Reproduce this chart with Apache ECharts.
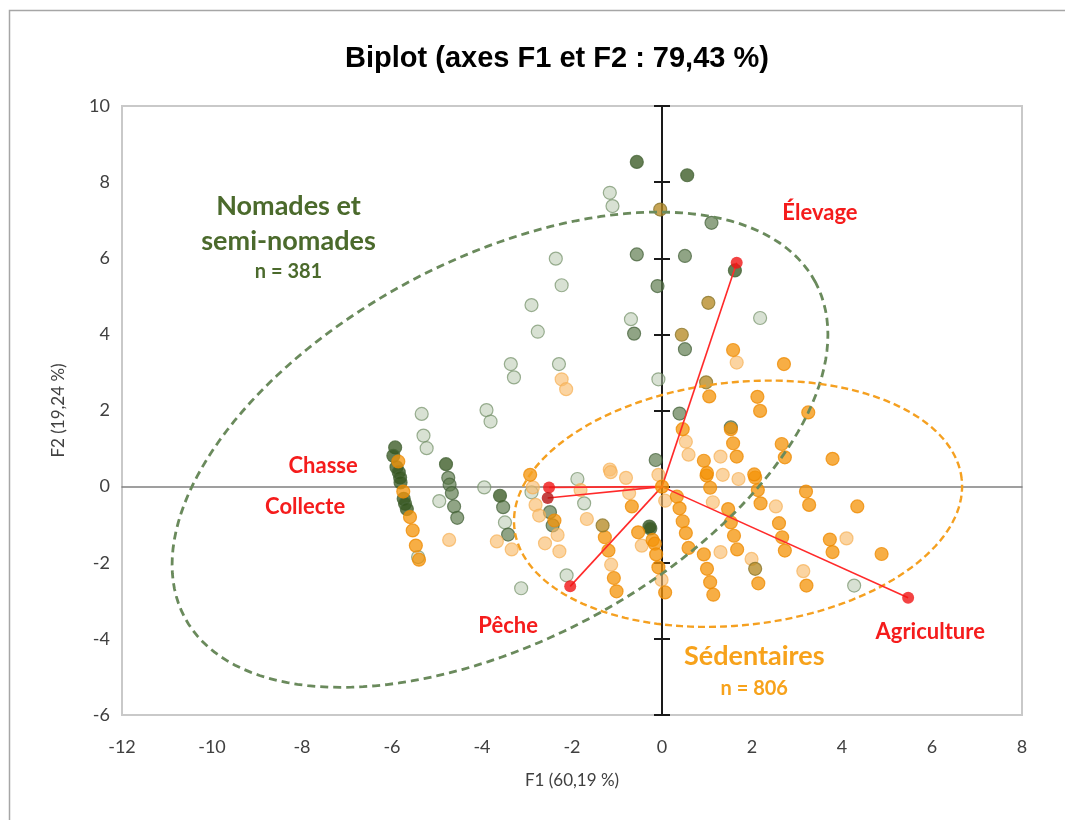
<!DOCTYPE html>
<html>
<head>
<meta charset="utf-8">
<script src="https://cdn.jsdelivr.net/npm/echarts@6/dist/echarts.min.js"></script>
<style>html,body{margin:0;padding:0;background:#fff;}#c{width:1065px;height:820px;}</style>
</head>
<body>
<div id="c"></div>
<script>
// ---- data ----
const xTicks = [-12, -10, -8, -6, -4, -2, 0, 2, 4, 6, 8];
const yTicks = [-6, -4, -2, 0, 2, 4, 6, 8, 10];

const darkGreen = [[-5.93,1.03],[-5.97,0.81],[-5.90,0.51],[-5.85,0.38],[-5.82,0.24],[-5.81,0.11],[-5.74,-0.32],[-5.71,-0.45],[-5.67,-0.59],
  [-4.8,0.59],[-3.6,-0.24],[-0.28,-1.05],[-0.26,-1.1],[-0.56,8.53],[0.56,8.18],[1.62,5.68]];
const midGreen = [[-4.75,0.23],[-4.72,0.05],[-4.67,-0.17],[-4.62,-0.52],[-4.55,-0.82],[-3.53,-0.54],[-3.42,-1.26],[-2.49,-0.67],[-2.43,-1.02],
  [1.1,6.93],[-0.56,6.1],[0.51,6.06],[-0.1,5.27],[-0.62,4.02],[0.51,3.61],[0.39,1.92],[-0.14,0.7],[1.53,1.56]];
const lightGreen = [[-5.34,1.91],[-5.30,1.34],[-5.23,1.01],[-4.95,-0.38],[-3.9,2.01],[-3.81,1.71],[-3.95,-0.02],[-3.49,-0.94],[-2.9,-0.15],
  [-1.88,0.2],[-1.73,-0.44],[-2.12,-2.33],[-3.13,-2.67],[-1.16,7.72],[-1.1,7.37],[-2.36,5.99],[-2.23,5.29],[-2.9,4.77],[-2.76,4.07],
  [-0.69,4.4],[-3.36,3.22],[-3.29,2.87],[-2.29,3.22],[-0.08,2.82],[2.18,4.43],[4.27,-2.6],[-5.42,-1.85]];
const orange = [[-5.86,0.66],[-5.75,-0.13],[-5.6,-0.80],[-5.54,-1.15],[-5.47,-1.55],[-5.40,-1.92],
  [-2.93,0.31],[-2.39,-0.89],[-0.67,-0.52],[-1.27,-1.33],[-1.19,-1.68],[-1.07,-2.4],[-1.01,-2.75],[-0.53,-1.2],[-0.21,-1.4],
  [-0.16,-1.5],[-0.13,-1.78],[-0.08,-2.12],[0.07,-2.78],[0.33,-0.26],[0.39,-0.57],[0.46,-0.91],[0.53,-1.22],[0.59,-1.61],
  [0.93,-1.78],[1.0,-2.16],[1.07,-2.51],[1.14,-2.84],[1.47,-0.59],[1.53,-0.94],[1.6,-1.29],[1.67,-1.65],[2.6,-0.96],[2.67,-1.33],
  [2.73,-1.68],[2.14,-2.54],[3.73,-1.39],[3.79,-1.72],[4.88,-1.77],[3.21,-2.6],[3.2,-0.13],[3.27,-0.48],[4.34,-0.52],[2.13,-0.09],
  [2.19,-0.44],[2.07,0.24],[2.05,0.32],[1.07,-0.03],[0.99,0.29],[1.0,0.36],[0.93,0.68],[1.66,0.79],[1.58,1.14],[1.53,1.51],
  [2.66,1.12],[2.73,0.77],[3.79,0.73],[0.46,1.51],[1.05,2.37],[2.12,2.36],[2.18,1.99],[3.25,1.95],[1.58,3.59],[2.71,3.22]];
const lightOrange = [[-4.73,-1.40],[-3.67,-1.44],[-3.34,-1.65],[-2.87,-0.02],[-2.81,-0.48],[-2.73,-0.76],[-2.32,-1.27],[-2.6,-1.49],
  [-2.28,-1.70],[-1.81,-0.09],[-1.67,-0.85],[-1.16,0.45],[-1.14,0.38],[-0.8,0.23],[-0.73,-0.17],[-1.13,-2.05],[-0.45,-1.55],
  [-0.01,-2.45],[-0.08,0.31],[0.07,-0.37],[0.53,1.18],[0.59,0.84],[1.3,0.79],[1.35,0.31],[1.7,0.2],[1.13,-0.41],[1.3,-1.72],
  [2.53,-0.52],[1.99,-1.9],[4.1,-1.36],[3.14,-2.22],[-2.23,2.82],[-2.13,2.56],[1.66,3.26]];
const olive = [[-0.04,7.28],[1.03,4.83],[0.44,3.99],[0.98,2.74],[-1.32,-1.02],[2.07,-2.16]];
const origin = [[0,0]];

const vectorNames = ['Élevage','Chasse','Collecte','Pêche','Agriculture'];
const vectorEnds = [[1.66,5.88],[-2.51,-0.02],[-2.54,-0.30],[-2.04,-2.62],[5.47,-2.92]];

// confidence ellipses: centre, two conjugate semi-axis vectors (data units)
const ellipseNomades = [-3.6, 0.97, 7.01, 4.40, -1.99, 4.43];
const ellipseSedentaires = [1.69, -0.45, 4.97, 0.65, -0.30, 3.17];

// annotations [x, y, text, fontSize]
const vectorLabels = [[3.51,7.19,'Élevage',22],[-7.53,0.55,'Chasse',22],[-7.93,-0.52,'Collecte',22],[-3.42,-3.65,'Pêche',22],[5.96,-3.83,'Agriculture',22]];
const groupLabels = [[-8.3,7.37,'Nomades et',27],[-8.3,6.45,'semi-nomades',27],[-8.3,5.64,'n = 381',20],
  [2.05,-4.46,'Sédentaires',27],[2.05,-5.3,'n = 806',20]];
const groupColors = ['#4b6a2c','#4b6a2c','#4b6a2c','#f7a21b','#f7a21b'];

// ---- chart ----
const chart = echarts.init(document.getElementById('c'));
const axisFont = 'Lato, "Open Sans", sans-serif';

function scatter(name, data, fill, border, z) {
  return { name, type: 'scatter', data, symbolSize: 13, z: z || 2,
    itemStyle: { color: fill, borderColor: border, borderWidth: 1.2 } };
}
function ellipse(params, color, width, dash) {
  return { type: 'custom', data: [params], z: 5, silent: true,
    renderItem: function (p, api) {
      const cx = api.value(0), cy = api.value(1), ux = api.value(2), uy = api.value(3), vx = api.value(4), vy = api.value(5);
      const pts = [];
      for (let i = 0; i <= 160; i++) {
        const t = i / 160 * Math.PI * 2;
        pts.push(api.coord([cx + ux * Math.cos(t) + vx * Math.sin(t), cy + uy * Math.cos(t) + vy * Math.sin(t)]));
      }
      return { type: 'polyline', shape: { points: pts }, style: { fill: 'none', stroke: color, lineWidth: width, lineDash: dash } };
    } };
}
function texts(data, colorFn) {
  return { type: 'custom', data, z: 10, silent: true,
    renderItem: function (p, api) {
      const pt = api.coord([api.value(0), api.value(1)]);
      const d = data[p.dataIndex];
      return { type: 'text', x: pt[0], y: pt[1], style: { text: d[2], fill: colorFn(p.dataIndex),
        font: 'bold ' + d[3] + 'px Lato, "Open Sans", sans-serif', align: 'center', verticalAlign: 'middle' } };
    } };
}

const series = [
  scatter('lg', lightGreen, 'rgba(180,198,170,0.65)', 'rgba(112,140,100,0.85)', 2),
  scatter('mg', midGreen, 'rgba(92,122,76,0.85)', 'rgba(66,96,56,0.9)', 3),
  scatter('dg', darkGreen, 'rgba(52,85,30,0.95)', 'rgba(72,102,58,1)', 3),
  scatter('lo', lightOrange, 'rgba(249,188,108,0.8)', 'rgba(246,175,80,0.85)', 4),
  scatter('o', orange, 'rgba(245,147,8,0.94)', 'rgba(238,138,0,0.95)', 4),
  scatter('ol', olive, 'rgba(180,136,31,0.95)', 'rgba(140,120,45,1)', 4),
  ellipse(ellipseNomades, '#6a8a5c', 2.8, [8, 5]),
  ellipse(ellipseSedentaires, '#f5a020', 2.4, [7, 4])
];
vectorEnds.forEach(function (v, i) {
  series.push({ name: vectorNames[i], type: 'line', data: [[0, 0], v], showSymbol: false, z: 6, silent: true,
    lineStyle: { color: '#ff2a2a', width: 1.6 } });
});
series.push({ type: 'scatter', data: vectorEnds, symbolSize: 12, z: 7,
  itemStyle: { color: function (p) { return p.dataIndex === 2 ? '#b51212' : '#f01414'; } } });
series.push(scatter('origin', origin, 'rgba(246,150,12,1)', 'rgba(240,140,0,1)', 8));
series.push(texts(vectorLabels, function () { return '#f51c1c'; }));
series.push(texts(groupLabels, function (i) { return groupColors[i]; }));

const baseX = { type: 'value', min: xTicks[0], max: xTicks[xTicks.length - 1], interval: 2, splitLine: { show: false } };
const baseY = { type: 'value', min: yTicks[0], max: yTicks[yTicks.length - 1], interval: 2, splitLine: { show: false } };

chart.setOption({
  animation: false,
  backgroundColor: '#ffffff',
  title: { text: 'Biplot (axes F1 et F2 : 79,43 %)', left: 552, top: 39, textAlign: 'center',
    textStyle: { fontFamily: '"Liberation Sans", Arial, sans-serif', fontWeight: 'bold', fontSize: 29, color: '#000' } },
  graphic: [{ type: 'rect', left: 7, top: 8, shape: { width: 1120, height: 900 }, style: { fill: 'none', stroke: '#a6a6a6', lineWidth: 1.5 }, silent: true }],
  grid: { left: 122, right: 43, top: 106, bottom: 105, show: true, borderColor: '#c9c9c9', borderWidth: 2, backgroundColor: '#fff' },
  xAxis: [
    Object.assign({}, baseX, { axisLine: { show: false, onZero: false }, axisTick: { show: false },
      axisLabel: { fontSize: 18, color: '#404040', margin: 23, fontFamily: axisFont },
      name: 'F1 (60,19 %)', nameLocation: 'middle', nameGap: 57, nameTextStyle: { fontSize: 17, color: '#404040', fontFamily: axisFont } }),
    Object.assign({}, baseX, { axisLine: { show: true, onZero: true, onZeroAxisIndex: 0, lineStyle: { color: '#808080', width: 1.5 } },
      axisTick: { show: false }, axisLabel: { show: false } })
  ],
  yAxis: [
    Object.assign({}, baseY, { position: 'left', axisLine: { show: false, onZero: false }, axisTick: { show: false },
      axisLabel: { fontSize: 18, color: '#404040', margin: 12, fontFamily: axisFont },
      name: 'F2 (19,24 %)', nameLocation: 'middle', nameGap: 55, nameTextStyle: { fontSize: 17, color: '#404040', fontFamily: axisFont } }),
    Object.assign({}, baseY, { position: 'left', axisLine: { show: true, onZero: true, onZeroAxisIndex: 0, lineStyle: { color: '#1a1a1a', width: 2 } },
      axisTick: { show: true, inside: false, length: 8, lineStyle: { color: '#1a1a1a', width: 2 } }, axisLabel: { show: false } }),
    Object.assign({}, baseY, { position: 'right', axisLine: { show: false, onZero: true, onZeroAxisIndex: 0 },
      axisTick: { show: true, inside: false, length: 8, lineStyle: { color: '#1a1a1a', width: 2 } }, axisLabel: { show: false } })
  ],
  series: series
});
</script>
</body>
</html>
